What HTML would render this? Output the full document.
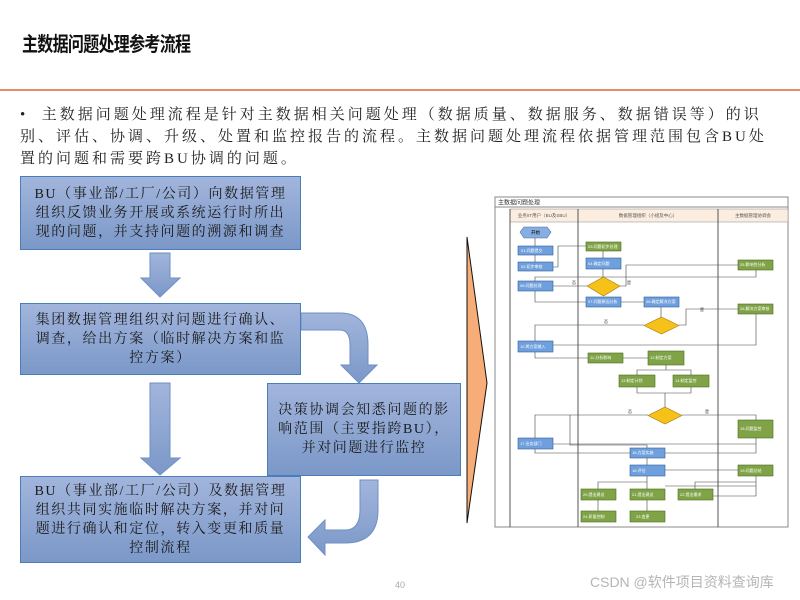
<!DOCTYPE html>
<html><head><meta charset="utf-8"><style>
body{margin:0;width:800px;height:600px;background:#fff;position:relative;overflow:hidden;font-family:"Liberation Serif","Noto Serif CJK SC",serif}
.t{position:absolute;left:22px;top:27px;font:bold 16px "Liberation Sans","Noto Sans CJK SC",sans-serif;color:#111;transform:scaleY(1.25);transform-origin:left top;letter-spacing:-0.7px}
.line{position:absolute;left:0;top:89px;width:800px;height:2px;background:#e8896b}
.p{position:absolute;left:20px;top:104px;width:760px;font-size:15px;line-height:22px;color:#222;letter-spacing:3px;white-space:nowrap}
.box{position:absolute;box-sizing:border-box;border:1.5px solid #4a7ebb;background:linear-gradient(#a2b5dc,#7b98c8);color:#1a1a1a;font-size:14px;line-height:19px;text-align:center;letter-spacing:1.6px;display:flex;align-items:center;justify-content:center}
svg{position:absolute;left:0;top:0}
</style></head><body>
<div class="t">主数据问题处理参考流程</div>
<div class="line"></div>
<div class="p">•&nbsp;&nbsp;主数据问题处理流程是针对主数据相关问题处理（数据质量、数据服务、数据错误等）的识<br>别、评估、协调、升级、处置和监控报告的流程。主数据问题处理流程依据管理范围包含BU处<br>置的问题和需要跨BU协调的问题。</div>

<svg width="800" height="600">
<defs><linearGradient id="ga" x1="0" y1="0" x2="0" y2="1"><stop offset="0" stop-color="#a2b5dc"/><stop offset="1" stop-color="#7b98c8"/></linearGradient></defs>
<g fill="url(#ga)" stroke="#6f8fc4" stroke-width="1">
<path d="M150,253 H170 V278 H180 L160,297 L141,278 H150 Z"/>
<path d="M150,383 H170 V458 H180 L160,475 L141,458 H150 Z"/>
<path d="M301,313 H340 Q368,313 368,345 V365 H377 L359,383 L341,365 H350 V345 Q350,330 340,330 H301 Z"/>
<path d="M360,480 H378 V510 Q378,543 345,543 H325 V555 L308,537 L325,520 V530 H345 Q360,530 360,510 Z"/>
</g>
<polygon points="467,237 487,383 467,523" fill="#f6ad78" stroke="#111" stroke-width="1"/>

<g font-family="Liberation Sans,Noto Sans CJK SC,sans-serif" font-size="4.5">
<rect x="495" y="197" width="293" height="330" fill="#fff" stroke="#888"/>
<line x1="495" y1="207" x2="788" y2="207" stroke="#888"/>
<text x="498" y="204.5" font-size="6" fill="#333">主数据问题处理</text>
<rect x="510" y="209" width="278" height="13" fill="#fbeee0" stroke="#888" stroke-width=".5"/>
<line x1="510" y1="209" x2="510" y2="527" stroke="#555"/>
<line x1="578" y1="209" x2="578" y2="527" stroke="#555"/>
<line x1="718" y1="209" x2="718" y2="527" stroke="#555"/>
<text x="544" y="217" text-anchor="middle" fill="#555">业务/IT用户（BU及SBU）</text>
<text x="648" y="217" text-anchor="middle" fill="#555">数据管理组织（小组及中心）</text>
<text x="753" y="217" text-anchor="middle" fill="#555">主数据管理协调会</text>
<g stroke="#444" stroke-width=".6" fill="none">
<path d="M535,238 V246 M535,255 V264 M553,267 H558 V246 H586 M603,251 V258 M603,269 V277 M587,286 H553 M620,286 H626 V265 H738 M756,270 V277 H535 V281 M535,291 V302 H586 M621,302 H644 M661,307 V317 M679,325 H686 V309 H738 M644,325 H535 V341 M756,314 V345 H553 M535,352 V358 H588 M623,358 H648 M666,365 V370 H637 V375 M666,370 H691 V375 M637,387 V393 H691 V387 M665,393 V407 M648,415 H535 V438 M682,415 H756 V420 M756,438 V444 H553 M535,449 V453 H630 M570,415 V445 H647 V448 M756,438 V453 H665 M647,458 V465 M665,470 H738 M647,476 V489 M598,489 V482 H647 M756,476 V496 H713 M756,482 H695 V489 M756,486 H665 M598,500 V511 M647,500 V511"/>
</g>
<polygon points="520,232 524,227 547,227 551,232 547,238 524,238" fill="#86aee0" stroke="#4a6fa8" stroke-width=".6"/>
<text x="535.5" y="234" text-anchor="middle">开始</text>
<g stroke="#2f5f9a" stroke-width=".6" fill="#6f9fdc">
<rect x="518" y="246" width="35" height="9"/><rect x="518" y="262" width="35" height="9"/>
<rect x="586" y="258" width="35" height="11"/><rect x="518" y="281" width="35" height="10"/>
<rect x="586" y="297" width="35" height="10"/><rect x="644" y="297" width="35" height="10"/>
<rect x="518" y="341" width="35" height="11"/><rect x="518" y="438" width="35" height="11"/>
<rect x="630" y="448" width="35" height="10"/><rect x="630" y="465" width="35" height="11"/>
</g>
<g stroke="#4a6a1e" stroke-width=".6" fill="#7fa346">
<rect x="586" y="242" width="35" height="9"/><rect x="738" y="260" width="35" height="10"/>
<rect x="738" y="304" width="35" height="10"/><rect x="588" y="353" width="35" height="10"/>
<rect x="648" y="351" width="36" height="14"/><rect x="619" y="375" width="36" height="12"/>
<rect x="673" y="375" width="36" height="12"/><rect x="738" y="420" width="35" height="18"/>
<rect x="738" y="465" width="35" height="11"/><rect x="581" y="489" width="35" height="11"/>
<rect x="630" y="489" width="35" height="11"/><rect x="678" y="489" width="35" height="11"/>
<rect x="581" y="511" width="35" height="11"/><rect x="630" y="511" width="35" height="11"/>
</g>
<g fill="#f6c21a" stroke="#a07a10" stroke-width=".6">
<polygon points="603.5,277 620,286 603.5,296 587,286"/>
<polygon points="661.5,317 679,325.5 661.5,334 644,325.5"/>
<polygon points="665,407 682,415.5 665,424 648,415.5"/>
</g>
<g fill="#fff" font-size="4">
<text x="521" y="252">01.问题提交</text><text x="521" y="268">02.初步审核</text>
<text x="588" y="248">03.问题初步处理</text><text x="588" y="265">04.确定问题</text>
<text x="520" y="287">06.问题处理</text><text x="588" y="303">07.问题原因分析</text>
<text x="646" y="303">08.确定解决方案</text><text x="740" y="266">25.影响性分析</text>
<text x="740" y="310">26.解决方案审核</text><text x="520" y="348">10.将方案输入</text>
<text x="590" y="359">11.分析影响</text><text x="650" y="359">12.制定方案</text>
<text x="621" y="382">13.制定计划</text><text x="675" y="382">14.制定监控</text>
<text x="740" y="430">15.问题监控</text><text x="520" y="445">17.业务部门</text>
<text x="632" y="454">16.方案实施</text><text x="632" y="472">18.评估</text>
<text x="740" y="472">19.问题总结</text><text x="583" y="496">20.提出建议</text>
<text x="632" y="496">21.提出建议</text><text x="680" y="496">22.提出需求</text>
<text x="583" y="518">24.质量控制</text><text x="636" y="518">23.变更</text>
</g>
<g fill="#333" font-size="4"><text x="572" y="284">否</text><text x="627" y="284">是</text><text x="604" y="323">否</text><text x="700" y="311">是</text><text x="628" y="413">否</text><text x="705" y="413">是</text></g>
</g>

<text x="400" y="588" font-size="9" fill="#aaa" text-anchor="middle" font-family="Liberation Sans,sans-serif">40</text>
<text x="590" y="587" font-size="14" fill="#b5b5b5" font-family="Liberation Sans,Noto Sans CJK SC,sans-serif">CSDN @软件项目资料查询库</text>
</svg>

<div class="box" style="left:20px;top:176px;width:281px;height:74px">BU（事业部/工厂/公司）向数据管理<br>组织反馈业务开展或系统运行时所出<br>现的问题，并支持问题的溯源和调查</div>
<div class="box" style="left:20px;top:303px;width:281px;height:72px">集团数据管理组织对问题进行确认、<br>调查，给出方案（临时解决方案和监<br>控方案）</div>
<div class="box" style="left:267px;top:383px;width:194px;height:93px">决策协调会知悉问题的影<br>响范围（主要指跨BU），<br>并对问题进行监控</div>
<div class="box" style="left:20px;top:476px;width:281px;height:87px">BU（事业部/工厂/公司）及数据管理<br>组织共同实施临时解决方案，并对问<br>题进行确认和定位，转入变更和质量<br>控制流程</div>
</body></html>
